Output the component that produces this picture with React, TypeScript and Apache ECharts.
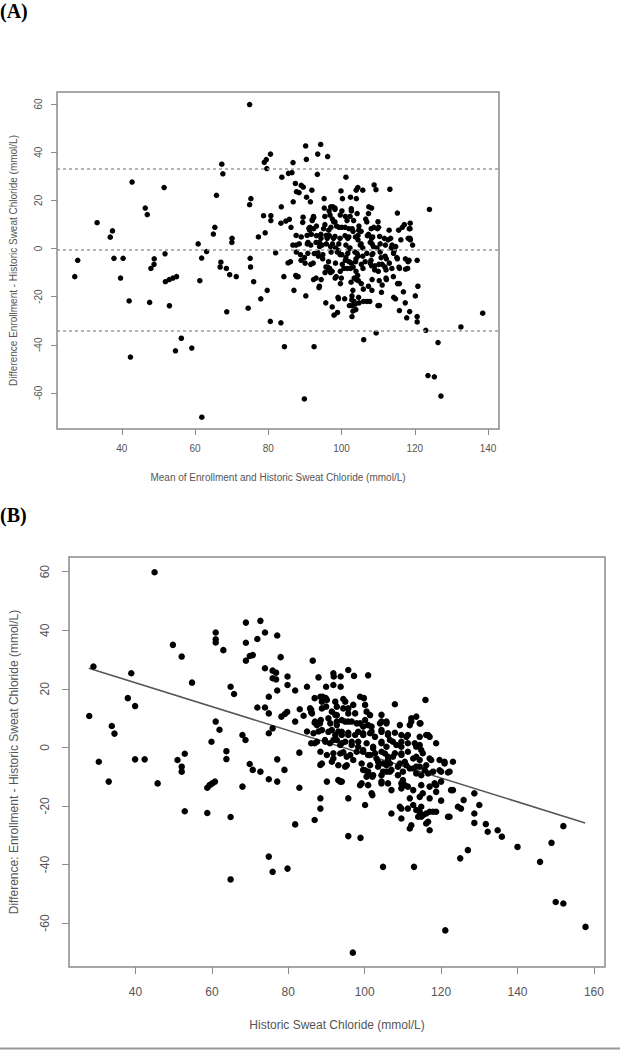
import React, { useEffect, useRef } from "react";
import * as echarts from "echarts";

// [historic sweat chloride, difference (enrollment - historic)] in mmol/L
const measurements: number[][] = [
  [27.9, 10.7], [29.0, 27.6], [30.4, -4.9], [33.0, -11.7], [33.8, 7.3], [34.5, 4.7], [38.0, 16.8], [38.9, 25.3],
  [39.9, 14.1], [39.9, -4.1], [42.4, -4.1], [45.8, -12.3], [45.0, 59.8], [49.8, 35.0], [52.1, 31.0], [54.8, 22.1],
  [51.0, -4.3], [52.1, -6.6], [52.1, -8.3], [52.9, -2.2], [52.9, -21.8], [58.8, -13.8], [59.4, -12.9], [60.1, -12.3],
  [60.8, -11.7], [58.8, -22.4], [59.9, 1.9], [61.0, 39.2], [61.0, 36.9], [61.0, 35.8], [63.0, 33.2], [61.0, 8.8],
  [62.0, 6.0], [63.8, -1.3], [63.8, -4.0], [64.9, 20.7], [65.8, 18.2], [64.9, -23.8], [64.9, -45.1], [68.0, 4.2],
  [68.8, 2.5], [68.0, -13.4], [68.9, 42.6], [68.9, 35.7], [68.9, 29.6], [69.9, 31.2], [70.7, 31.5], [69.9, -5.7],
  [70.7, -7.7], [72.7, -8.3], [71.9, 13.6], [71.9, 37.0], [72.7, 43.2], [73.9, 39.2], [73.9, 27.0], [73.9, 13.6],
  [74.9, 17.3], [74.9, 11.6], [74.9, 4.8], [74.9, -10.9], [74.9, -37.3], [75.9, 26.2], [75.9, 23.6], [76.8, 25.5],
  [76.8, 23.2], [75.9, 6.5], [75.9, -42.5], [77.1, 38.2], [77.1, 19.4], [77.1, -4.1], [77.1, -11.7], [78.0, 30.8],
  [78.2, 10.5], [79.1, 11.4], [79.7, 12.1], [79.0, -7.7], [79.8, 24.2], [79.8, 21.3], [79.8, -41.4], [81.8, 19.4],
  [81.8, 8.8], [81.8, -26.3], [83.0, 13.0], [82.9, -1.8], [82.9, -13.8], [84.0, 10.8], [84.9, 20.7], [84.9, 5.4],
  [86.0, 12.8], [86.0, 12.0], [86.4, 29.6], [86.0, 1.4], [86.9, 1.4], [86.9, 8.4], [86.9, 16.8], [86.9, -24.8],
  [87.9, 23.9], [87.9, 5.4], [88.4, 17.3], [88.4, -1.5], [88.4, -6.0], [88.4, -17.4], [88.4, -20.9],
  [91.8, 25.3], [91.9, 24.2], [93.7, 24.2], [95.7, 26.4], [97.2, 24.4], [100.9, 24.6],
  [89.9, 20.7], [91.8, 21.3], [93.7, 20.7],
  [89.0, 17.3], [89.8, 16.8], [94.4, 16.5], [98.8, 17.3], [99.8, 16.8], [115.9, 16.2], [88.8, 15.6], [94.9, 15.6],
  [89.9, 13.9], [91.4, 12.2], [92.7, 13.9], [95.7, 13.3], [97.5, 11.6], [100.1, 14.5], [100.5, 12.2], [104.4, 11.1],
  [107.9, 14.7], [92.3, 11.1],
  [88.5, 9.3], [90.5, 9.9], [92.7, 8.8], [94.9, 8.8], [96.6, 8.8], [98.8, 8.2], [100.1, 9.3], [100.9, 7.6],
  [104.4, 8.8], [105.7, 8.2], [112.2, 8.8], [114.6, 8.2], [87.5, 7.6],
  [86.6, 4.8], [91.4, 5.9], [93.1, 5.4], [94.0, 4.2], [95.7, 5.0], [97.5, 4.2], [99.6, 4.8], [101.8, 5.4],
  [104.4, 5.9], [106.1, 4.8], [107.9, 5.0], [109.6, 4.2], [111.3, 4.2], [114.4, 3.6], [116.6, 4.2],
  [87.5, 1.9], [89.6, 2.5], [90.9, 1.4], [92.7, 2.5], [94.0, 1.4], [96.6, 1.9], [98.3, 0.2], [100.5, 1.4],
  [102.2, -0.3], [104.4, 1.9], [106.6, 2.5], [108.3, 0.8], [109.6, 1.9], [111.3, 1.4], [113.5, 0.2], [114.8, -0.9],
  [118.7, 1.4],
  [90.1, -2.6], [91.8, -3.8], [93.6, -2.1], [95.3, -3.2], [97.0, -4.3], [99.6, -1.5], [101.4, -2.6], [103.1, -3.8],
  [105.3, -2.1], [106.1, -4.3], [107.4, -3.2], [109.6, -2.1], [110.5, -4.9], [112.7, -3.8], [114.4, -4.3], [117.0, -3.8],
  [119.6, -4.3], [120.9, -5.5], [123.1, -4.9], [104.8, -5.5], [106.6, -5.5],
  [94.9, -6.6], [99.6, -7.7], [100.9, -8.3], [103.5, -6.6], [105.7, -8.3], [107.0, -7.7], [108.7, -6.6], [110.0, -8.3],
  [111.8, -7.2], [113.5, -6.6], [115.7, -7.7], [117.9, -8.3], [120.0, -8.3], [122.2, -8.3], [100.5, -10.0], [102.0, -10.0],
  [104.4, -9.5], [110.0, -11.2],
  [90.1, -11.7], [93.1, -11.2], [93.6, -11.7], [98.8, -12.9], [100.9, -12.9], [104.4, -12.3], [107.0, -14.6], [109.6, -12.3],
  [111.3, -13.4], [114.8, -12.9], [117.0, -13.4], [118.7, -12.9], [123.1, -14.6], [128.7, -15.7], [102.0, -16.3], [95.7, -17.4],
  [111.8, -17.4], [114.4, -16.9], [117.0, -17.4], [120.0, -18.2], [125.9, -18.0], [130.0, -19.7],
  [100.1, -19.7], [109.2, -20.3], [109.6, -20.9], [112.7, -19.7], [113.5, -21.4], [114.4, -22.0], [115.3, -23.1], [117.0, -22.0],
  [117.9, -22.0], [107.0, -22.6], [109.6, -24.3], [114.8, -23.7], [118.7, -22.0], [121.8, -23.7], [125.2, -20.9], [128.7, -22.6],
  [111.8, -27.7], [116.1, -26.0], [117.0, -28.3], [128.7, -25.8], [131.7, -26.2], [132.2, -28.8], [134.8, -28.3], [135.9, -30.5],
  [152.0, -26.9],
  [95.7, -30.3], [98.9, -30.9], [125.0, -37.9], [127.0, -35.1], [140.0, -34.0], [148.9, -32.6], [145.9, -39.1], [104.8, -40.8],
  [112.9, -40.8], [150.0, -52.8], [152.0, -53.3], [121.1, -62.5], [157.8, -61.3], [96.9, -70.1],
];

// further overlapping points (B)
const denseCore: number[][] = [
  [90.1, 16.2], [92.3, 15.6], [97.0, 14.5],
  [85.7, 13.3], [86.2, 11.6], [88.8, 13.3], [92.7, 11.0], [94.4, 13.3], [95.7, 11.6], [101.4, 11.0], [112.2, 9.9], [113.5, 10.5],
  [87.0, 8.8], [88.3, 8.2], [91.0, 8.2], [92.7, 7.6], [94.0, 9.3], [95.7, 8.8], [97.9, 8.2], [99.6, 7.1], [101.8, 7.1],
  [104.0, 8.2], [105.7, 8.8], [109.2, 7.6], [111.8, 7.6], [114.4, 8.2],
  [88.8, 5.9], [90.5, 5.3], [92.3, 4.2], [94.0, 5.3], [95.7, 4.2], [98.3, 5.3], [99.6, 4.2], [101.4, 4.8], [102.7, 3.6],
  [104.4, 5.3], [106.1, 4.2], [110.9, 3.6], [116.1, 4.2], [117.0, 3.6],
  [89.7, 1.9], [91.8, 2.5], [93.6, 0.8], [94.9, 1.9], [96.6, 0.8], [98.3, 1.9], [102.2, 0.2], [104.4, 1.4], [105.7, 0.2],
  [107.4, 1.9], [109.6, 0.2], [113.1, 1.4], [114.4, 0.8],
  [91.8, -2.0], [94.4, -1.7], [96.2, -2.6], [97.9, -1.5], [99.6, -0.9], [100.9, -2.6], [102.7, -2.0], [104.4, -1.5],
  [106.1, -3.2], [107.9, -2.0], [109.6, -2.6], [111.3, -1.5], [113.5, -3.2], [115.2, -2.0], [117.4, -4.3], [120.9, -4.9],
  [88.8, -5.5], [91.4, -4.9], [93.1, -6.1], [95.3, -6.1], [99.2, -5.5], [101.4, -6.1], [103.5, -4.9], [105.7, -6.1],
  [109.2, -5.5], [110.9, -6.1], [112.7, -7.2], [114.4, -6.6], [116.1, -6.1], [119.6, -7.8], [121.8, -8.6],
  [100.1, -7.8], [100.9, -8.9], [102.2, -9.5], [104.8, -8.3], [106.6, -8.3], [108.7, -9.5], [113.5, -8.9], [114.8, -9.5],
  [116.6, -8.9],
  [94.0, -11.7], [99.2, -12.3], [104.4, -11.7], [106.1, -12.3], [110.5, -12.9], [118.3, -12.3], [120.0, -11.7],
  [109.6, -14.0], [112.7, -14.6], [115.2, -15.7], [118.7, -15.2], [122.6, -14.6], [101.8, -15.7],
  [111.3, -20.9], [114.8, -20.3], [116.1, -22.6], [124.4, -20.3], [112.2, -26.6], [114.0, -23.7], [116.6, -25.4], [122.2, -23.7],
];

// Bland-Altman limits in panel (A): upper limit, mean difference, lower limit
const agreementLines = [33.1, -0.6, -34.3];
// regression line endpoints in panel (B): [historic, difference]
const fitLine: number[][] = [[27.8, 27.0], [157.7, -25.8]];

const xTicksA = [40, 60, 80, 100, 120, 140];
const xTicksB = [40, 60, 80, 100, 120, 140, 160];
const yTicks = [-60, -40, -20, 0, 20, 40, 60];

const textColor = "#555";
const axisColor = "#8a8a8a";
const sans = "'Liberation Sans', Arial, sans-serif";

export default function App() {
  const ref = useRef<HTMLDivElement>(null);

  useEffect(() => {
    if (!ref.current) return;
    const chart = echarts.init(ref.current, undefined, { renderer: "svg" });

    const all = measurements.concat(denseCore);
    const pointsA = all.map(([h, d]) => [h + d / 2, d]);
    const pointsB = all.map(([h, d]) => [h, d]);

    const xAxisBase = (ticks: number[], fs: number, tickLen: number, margin: number) => ({
      type: "value",
      splitLine: { show: false },
      axisLine: { show: false, onZero: false },
      axisTick: { show: true, length: tickLen, lineStyle: { color: axisColor, width: 1 }, customValues: ticks },
      axisLabel: { customValues: ticks, fontSize: fs, color: textColor, margin, fontFamily: sans },
      nameLocation: "middle",
      nameTextStyle: { fontSize: fs, color: textColor, fontFamily: sans },
    });

    const yAxisBase = (fs: number, tickLen: number, margin: number) => ({
      type: "value",
      min: -75,
      max: 65,
      splitLine: { show: false },
      axisLine: { show: false, onZero: false },
      axisTick: { show: true, length: tickLen, lineStyle: { color: axisColor, width: 1 }, customValues: yTicks },
      axisLabel: { customValues: yTicks, fontSize: fs, color: textColor, margin, rotate: 90, fontFamily: sans },
      nameLocation: "middle",
      nameRotate: 90,
      nameTextStyle: { fontSize: fs, color: textColor, fontFamily: sans },
    });

    chart.setOption({
      animation: false,
      backgroundColor: "#fff",
      textStyle: { fontFamily: sans },
      grid: [
        { left: 54, top: 92, width: 445, height: 337, show: true, borderColor: axisColor, borderWidth: 1.5, backgroundColor: "transparent" },
        { left: 66, top: 557, width: 539, height: 410, show: true, borderColor: axisColor, borderWidth: 1.5, backgroundColor: "transparent" },
      ],
      xAxis: [
        { ...xAxisBase(xTicksA, 10, 6, 14), gridIndex: 0, min: 22.3, max: 143, name: "Mean of Enrollment and Historic Sweat Chloride (mmol/L)", nameGap: 43 },
        { ...xAxisBase(xTicksB, 12, 7, 19), gridIndex: 1, min: 22.6, max: 162.9, name: "Historic Sweat Chloride (mmol/L)", nameGap: 52 },
      ],
      yAxis: [
        { ...yAxisBase(10, 6, 14), gridIndex: 0, name: "Difference Enrollment - Historic Sweat Chloride (mmol/L)", nameGap: 39 },
        { ...yAxisBase(12, 7, 18), gridIndex: 1, name: "Difference: Enrollment - Historic Sweat Chloride (mmol/L)", nameGap: 49 },
      ],
      series: [
        {
          type: "scatter",
          xAxisIndex: 0,
          yAxisIndex: 0,
          data: pointsA,
          symbol: "circle",
          symbolSize: 5.5,
          itemStyle: { color: "#000", opacity: 1 },
          markLine: {
            silent: true,
            symbol: "none",
            label: { show: false },
            lineStyle: { color: "#9a9a9a", type: [3, 3], width: 1.5 },
            data: agreementLines.map((v) => ({ yAxis: v })),
          },
        },
        {
          type: "line",
          xAxisIndex: 1,
          yAxisIndex: 1,
          data: fitLine,
          showSymbol: false,
          symbol: "none",
          lineStyle: { color: "#555", width: 1.5 },
          z: 3,
        },
        {
          type: "scatter",
          xAxisIndex: 1,
          yAxisIndex: 1,
          data: pointsB,
          symbol: "circle",
          symbolSize: 6.5,
          itemStyle: { color: "#000", opacity: 1 },
          z: 4,
        },
      ],
      graphic: [
        { type: "text", left: 0, top: 1, style: { text: "(A)", font: "bold 20px 'Liberation Serif', 'Times New Roman', serif", fill: "#000" } },
        { type: "text", left: 0, top: 505, style: { text: "(B)", font: "bold 20px 'Liberation Serif', 'Times New Roman', serif", fill: "#000" } },
        { type: "line", shape: { x1: 0, y1: 1048.5, x2: 620, y2: 1048.5 }, style: { stroke: "#999", lineWidth: 2 } },
      ],
    });

    return () => chart.dispose();
  }, []);

  return (
    <div
      ref={ref}
      style={{ position: "absolute", left: 0, top: 0, width: 620, height: 1050 }}
    />
  );
}
